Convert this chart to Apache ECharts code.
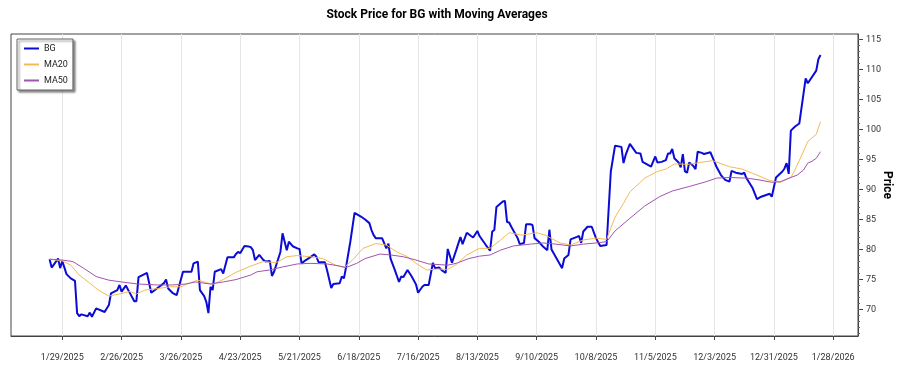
<!DOCTYPE html>
<html><head><meta charset="utf-8">
<script src="https://cdn.jsdelivr.net/npm/echarts@6/dist/echarts.min.js"></script>
<style>html,body{margin:0;padding:0;background:#fff}#c{width:900px;height:375px}</style>
</head><body><div id="c"></div>
<script>
const titleText = 'Stock Price for BG with Moving Averages';
const yAxisName = 'Price';
const seriesNames = ['BG', 'MA20', 'MA50'];

const bgDates = ['2025-01-23','2025-01-24','2025-01-27','2025-01-28','2025-01-29','2025-01-31','2025-02-02','2025-02-04','2025-02-05','2025-02-06','2025-02-07','2025-02-10','2025-02-11','2025-02-12','2025-02-14','2025-02-18','2025-02-20','2025-02-21','2025-02-24','2025-02-25','2025-02-26','2025-02-28','2025-03-02','2025-03-04','2025-03-05','2025-03-06','2025-03-10','2025-03-12','2025-03-15','2025-03-18','2025-03-19','2025-03-20','2025-03-22','2025-03-24','2025-03-27','2025-03-31','2025-04-01','2025-04-03','2025-04-04','2025-04-06','2025-04-07','2025-04-08','2025-04-09','2025-04-10','2025-04-11','2025-04-14','2025-04-15','2025-04-17','2025-04-20','2025-04-21','2025-04-22','2025-04-23','2025-04-25','2025-04-27','2025-04-28','2025-04-29','2025-04-30','2025-05-02','2025-05-04','2025-05-05','2025-05-07','2025-05-08','2025-05-09','2025-05-12','2025-05-13','2025-05-15','2025-05-16','2025-05-18','2025-05-20','2025-05-21','2025-05-22','2025-05-24','2025-05-26','2025-05-28','2025-05-29','2025-05-30','2025-06-02','2025-06-03','2025-06-05','2025-06-06','2025-06-09','2025-06-10','2025-06-11','2025-06-12','2025-06-14','2025-06-16','2025-06-19','2025-06-21','2025-06-23','2025-06-24','2025-06-25','2025-06-26','2025-06-29','2025-07-01','2025-07-02','2025-07-03','2025-07-05','2025-07-07','2025-07-08','2025-07-09','2025-07-11','2025-07-13','2025-07-15','2025-07-16','2025-07-18','2025-07-19','2025-07-21','2025-07-23','2025-07-24','2025-07-26','2025-07-27','2025-07-29','2025-07-30','2025-08-01','2025-08-03','2025-08-05','2025-08-06','2025-08-08','2025-08-10','2025-08-11','2025-08-13','2025-08-14','2025-08-17','2025-08-19','2025-08-20','2025-08-21','2025-08-22','2025-08-25','2025-08-26','2025-08-27','2025-08-28','2025-08-29','2025-09-01','2025-09-02','2025-09-04','2025-09-05','2025-09-07','2025-09-08','2025-09-09','2025-09-11','2025-09-13','2025-09-15','2025-09-16','2025-09-17','2025-09-22','2025-09-23','2025-09-25','2025-09-26','2025-09-29','2025-09-30','2025-10-01','2025-10-02','2025-10-04','2025-10-06','2025-10-08','2025-10-10','2025-10-13','2025-10-15','2025-10-17','2025-10-20','2025-10-21','2025-10-22','2025-10-24','2025-10-27','2025-10-29','2025-10-30','2025-11-03','2025-11-05','2025-11-06','2025-11-08','2025-11-10','2025-11-11','2025-11-12','2025-11-13','2025-11-14','2025-11-16','2025-11-17','2025-11-18','2025-11-19','2025-11-20','2025-11-21','2025-11-23','2025-11-24','2025-11-25','2025-11-27','2025-11-28','2025-12-01','2025-12-02','2025-12-04','2025-12-06','2025-12-08','2025-12-10','2025-12-11','2025-12-13','2025-12-16','2025-12-17','2025-12-18','2025-12-21','2025-12-23','2025-12-25','2025-12-29','2025-12-30','2026-01-01','2026-01-04','2026-01-05','2026-01-06','2026-01-07','2026-01-08','2026-01-10','2026-01-12','2026-01-15','2026-01-16','2026-01-20','2026-01-21','2026-01-22'];
const bgValues = [78.4,77.0,78.5,76.9,78.1,75.9,75.2,74.8,69.4,68.9,69.2,68.9,69.5,68.8,70.2,69.6,70.75,72.7,73.25,74.1,73.0,74.0,72.7,71.4,71.4,75.4,76.1,72.8,73.6,74.4,75.0,73.5,72.8,72.4,76.3,76.3,77.7,78.0,73.25,72.25,71.3,69.4,73.8,73.25,76.3,76.75,76.0,78.7,78.7,79.25,79.6,79.4,80.6,80.5,80.4,79.9,78.25,79.1,78.25,78.0,78.1,75.6,76.3,79.6,82.7,79.9,81.3,80.5,80.2,80.1,77.7,78.25,78.7,79.2,78.8,77.9,77.9,76.6,73.6,74.25,74.4,75.5,75.2,77.1,81.3,86.1,85.5,85.0,84.4,83.25,82.4,81.9,81.9,80.2,81.0,78.5,76.6,74.6,75.5,75.4,76.6,75.5,74.2,72.8,73.8,74.1,74.1,77.8,76.9,77.0,76.6,76.1,80.1,77.8,79.9,82.1,80.9,82.8,82.25,82.0,83.1,82.25,80.75,79.8,83.0,83.25,87.1,88.0,88.1,84.6,84.5,83.8,81.9,80.9,81.1,84.2,84.2,84.1,81.9,81.3,80.5,79.9,83.3,80.0,76.9,78.5,79.1,81.7,82.1,82.25,81.1,83.0,83.8,83.8,81.9,80.6,80.75,93.0,97.3,97.1,94.4,95.75,97.6,96.1,96.0,94.6,93.8,95.5,94.5,94.6,94.9,96.0,96.0,96.75,95.2,94.5,93.7,95.9,93.0,92.8,94.5,93.9,93.4,96.3,96.1,95.9,96.2,95.4,93.7,92.4,91.6,91.3,93.1,92.8,92.6,92.8,91.9,90.2,88.4,88.8,89.3,88.8,92.0,93.0,93.5,94.4,92.6,99.8,100.5,101.0,108.5,107.7,109.8,111.7,112.4];

const ma20Dates = ['2025-01-23','2025-01-29','2025-02-02','2025-02-06','2025-02-11','2025-02-15','2025-02-20','2025-02-25','2025-03-02','2025-03-05','2025-03-09','2025-03-15','2025-03-21','2025-03-26','2025-03-30','2025-04-03','2025-04-07','2025-04-10','2025-04-15','2025-04-21','2025-04-28','2025-05-04','2025-05-10','2025-05-15','2025-05-20','2025-05-26','2025-06-01','2025-06-07','2025-06-11','2025-06-15','2025-06-20','2025-06-26','2025-07-01','2025-07-06','2025-07-11','2025-07-15','2025-07-20','2025-07-25','2025-07-30','2025-08-03','2025-08-08','2025-08-14','2025-08-19','2025-08-24','2025-08-28','2025-09-03','2025-09-10','2025-09-14','2025-09-21','2025-09-26','2025-10-02','2025-10-08','2025-10-13','2025-10-17','2025-10-21','2025-10-24','2025-10-31','2025-11-06','2025-11-10','2025-11-14','2025-11-21','2025-11-26','2025-12-02','2025-12-10','2025-12-16','2025-12-23','2025-12-29','2026-01-03','2026-01-08','2026-01-10','2026-01-13','2026-01-16','2026-01-20','2026-01-22'];
const ma20Values = [78.4,78.1,77.4,75.75,74.4,73.25,72.25,72.6,73.0,72.6,73.25,73.5,73.8,73.8,74.4,74.9,74.5,74.2,75.0,76.2,77.25,78.0,77.8,78.8,79.0,78.8,78.5,77.4,77.0,78.25,80.2,81.0,80.75,79.6,78.8,77.7,76.6,76.75,76.7,77.5,79.1,80.2,80.2,81.6,82.8,82.4,82.8,82.4,81.1,80.75,81.6,81.9,81.7,85.4,87.7,89.6,91.9,93.0,93.4,94.25,94.2,94.5,94.8,93.8,93.4,92.4,91.5,91.2,92.0,93.3,95.6,98.0,99.2,101.3];

const ma50Dates = ['2025-01-23','2025-01-29','2025-02-03','2025-02-08','2025-02-14','2025-02-20','2025-02-26','2025-03-06','2025-03-15','2025-03-22','2025-03-28','2025-04-02','2025-04-09','2025-04-15','2025-04-21','2025-04-28','2025-05-01','2025-05-07','2025-05-13','2025-05-20','2025-05-26','2025-06-03','2025-06-09','2025-06-12','2025-06-17','2025-06-21','2025-06-28','2025-07-03','2025-07-09','2025-07-15','2025-07-21','2025-07-30','2025-08-03','2025-08-09','2025-08-14','2025-08-19','2025-08-24','2025-08-30','2025-09-07','2025-09-13','2025-09-19','2025-09-26','2025-10-02','2025-10-08','2025-10-13','2025-10-17','2025-10-24','2025-10-31','2025-11-07','2025-11-13','2025-11-21','2025-11-29','2025-12-04','2025-12-10','2025-12-18','2025-12-24','2025-12-30','2026-01-03','2026-01-08','2026-01-11','2026-01-14','2026-01-16','2026-01-18','2026-01-20','2026-01-22'];
const ma50Values = [78.4,78.25,78.0,76.9,75.5,74.9,74.6,74.25,74.1,74.1,74.25,74.6,74.25,74.6,75.0,75.75,76.3,76.6,77.1,77.6,77.7,77.6,77.25,77.0,77.7,78.5,79.25,79.1,78.8,78.25,77.6,77.4,77.7,78.5,78.9,79.1,79.9,80.6,80.9,81.1,80.9,80.6,80.9,81.1,81.3,83.1,85.2,87.25,88.8,89.75,90.5,91.3,91.9,92.0,91.9,91.6,91.2,91.3,92.0,92.4,93.25,94.4,94.7,95.2,96.3];

const xTickDates = ['2025-01-29','2025-02-26','2025-03-26','2025-04-23','2025-05-21','2025-06-18','2025-07-16','2025-08-13','2025-09-10','2025-10-08','2025-11-05','2025-12-03','2025-12-31','2026-01-28'];
const yTickValues = [70,75,80,85,90,95,100,105,110,115];
const yMinorTickValues = [66,67,68,69,70,71,72,73,74,75,76,77,78,79,80,81,82,83,84,85,86,87,88,89,90,91,92,93,94,95,96,97,98,99,100,101,102,103,104,105,106,107,108,109,110,111,112,113,114,115];

const toTs = s => { const p = s.split('-').map(Number); return Date.UTC(p[0], p[1]-1, p[2]); };
const pairs = (ds, vs) => ds.map((d, i) => [toTs(d), vs[i]]);
const fmtDate = v => { const d = new Date(v); return (d.getUTCMonth()+1) + '/' + d.getUTCDate() + '/' + d.getUTCFullYear(); };

const FONT = 'Roboto, "Liberation Sans", sans-serif';
const chart = echarts.init(document.getElementById('c'), null, {renderer: 'canvas'});
chart.setOption({
  animation: false,
  backgroundColor: '#fff',
  graphic: [{
    type: 'text', x: 437, y: 15,
    style: {text: titleText, textAlign: 'center', textVerticalAlign: 'middle', font: 'bold 12px ' + FONT, fill: '#000'}
  }],
  grid: {left: 11, right: 42, top: 34, bottom: 39, outerBoundsMode: 'none', containLabel: false, show: true, borderColor: '#444', borderWidth: 1, backgroundColor: 'transparent'},
  legend: {
    orient: 'vertical', left: 17, top: 39,
    data: seriesNames,
    icon: 'rect', itemWidth: 15, itemHeight: 2, itemGap: 7,
    padding: [5, 5, 5, 7],
    backgroundColor: '#fff', borderColor: '#666', borderWidth: 1,
    shadowColor: 'rgba(0,0,0,0.45)', shadowBlur: 2, shadowOffsetX: 2, shadowOffsetY: 2,
    textStyle: {fontSize: 9, color: '#222', fontFamily: FONT}
  },
  xAxis: {
    type: 'value',
    min: Date.UTC(2025, 0, 4, 19), max: Date.UTC(2026, 1, 8, 17),
    axisLine: {show: true, lineStyle: {color: '#444'}},
    axisTick: {show: true, inside: false, length: 4, customValues: xTickDates.map(toTs), lineStyle: {color: '#444'}},
    axisLabel: {customValues: xTickDates.map(toTs), formatter: fmtDate, fontSize: 9, color: '#333', margin: 17, fontFamily: FONT},
    splitLine: {show: true, lineStyle: {color: '#e6e6e6', width: 1}}
  },
  yAxis: [{
    type: 'value', position: 'right', min: 65.6, max: 115.9,
    name: yAxisName, nameLocation: 'middle', nameRotate: -90, nameGap: 23, nameMoveOverlap: false,
    nameTextStyle: {fontSize: 12, fontWeight: 'bold', color: '#000', fontFamily: FONT},
    axisLine: {show: true, lineStyle: {color: '#444'}},
    axisTick: {show: true, inside: false, length: 5, customValues: yTickValues, lineStyle: {color: '#444'}},
    axisLabel: {customValues: yTickValues, fontSize: 9, color: '#333', margin: 8, fontFamily: FONT},
    splitLine: {show: false}
  }, {
    type: 'value', position: 'right', min: 65.6, max: 115.9,
    axisLine: {show: false},
    axisTick: {show: true, inside: false, length: 2, customValues: yMinorTickValues, lineStyle: {color: '#666'}},
    axisLabel: {show: false},
    splitLine: {show: false}
  }],
  series: [
    {name: 'BG', type: 'line', data: pairs(bgDates, bgValues), symbol: 'none', lineStyle: {width: 2, color: '#0b0bd6'}, itemStyle: {color: '#0b0bd6'}},
    {name: 'MA20', type: 'line', data: pairs(ma20Dates, ma20Values), symbol: 'none', lineStyle: {width: 1, color: '#f3bb55'}, itemStyle: {color: '#f3bb55'}},
    {name: 'MA50', type: 'line', data: pairs(ma50Dates, ma50Values), symbol: 'none', lineStyle: {width: 1, color: '#a055ae'}, itemStyle: {color: '#a055ae'}}
  ]
});
</script></body></html>
